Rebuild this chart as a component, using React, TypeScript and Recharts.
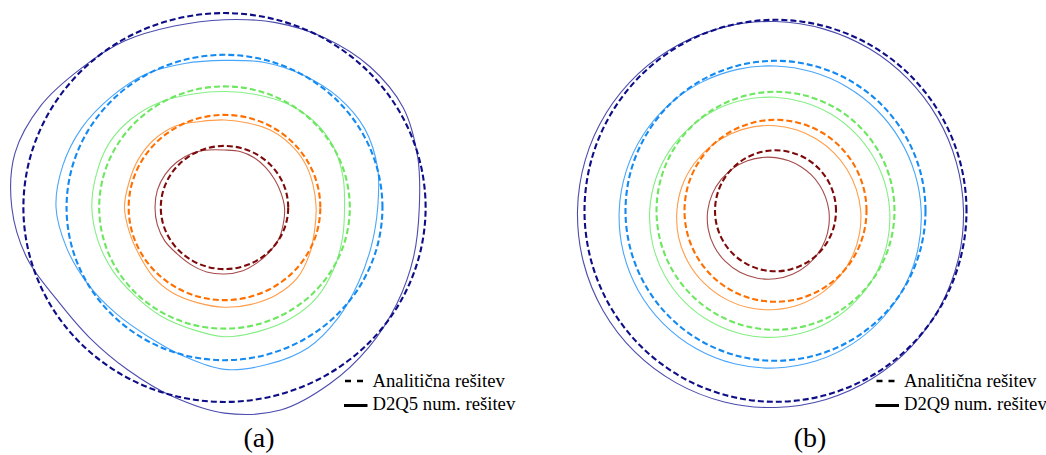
import React from 'react';
import { RadarChart, Radar, PolarAngleAxis, PolarRadiusAxis } from 'recharts';

const W = 1046;
const H = 455;

// polar angles (degrees, counter-clockwise from east) at which contours were read
const angles = [0, 15, 30, 45, 60, 75, 90, 105, 120, 135, 150, 165, 180, 195, 210, 225, 240, 255, 270, 285, 300, 315, 330, 345];

// analytic solution: circle radii of the five contour levels (inner -> outer)
const analyticRadii = [60.5, 91, 119, 150, 191];

// D2Q5 numerical contours (radius per angle)
const d2q5Red = [57, 55.5, 55, 55.5, 56.5, 57, 56.5, 58.5, 61.5, 63.5, 65, 66, 66, 66, 65.5, 64, 64.5, 65.5, 65.3, 64.5, 62.5, 61, 60, 58];
const d2q5Orange = [87, 87, 88, 88, 87.5, 86, 86, 87.5, 92.5, 94.5, 94.5, 94, 95, 93.5, 93.5, 96, 97.3, 97, 98, 98.5, 99, 97.8, 93, 88.5];
const d2q5Green = [114, 116.5, 119.5, 120, 118, 115, 114, 115.5, 120, 124, 126.5, 126, 126, 124.5, 123, 121.5, 122.5, 123.5, 127, 126, 126, 124.5, 120, 116];
const d2q5Blue = [145.5, 150.5, 154, 153, 150, 147.5, 144.5, 146.5, 151, 153, 156.5, 159, 160, 155, 150, 146.5, 146, 151, 159, 159.5, 159, 153, 147, 144.5];
const d2q5Navy = [185, 190, 196, 195.5, 192, 188, 184.5, 184.5, 189, 193, 201, 206, 202, 194, 183, 181, 184, 192, 202, 206, 200, 194, 189, 186];

// D2Q9 numerical contours (radius per angle)
const d2q9Red = [53.4, 51.9, 51, 50.7, 50.9, 51.8, 53.2, 55.1, 57.4, 60, 62.7, 65.4, 67.8, 69.7, 70.9, 71.3, 71, 69.8, 68, 65.7, 63, 60.2, 57.7, 55.3];
const d2q9Orange = [85.2, 83.6, 82.7, 82.3, 82.6, 83.6, 85.1, 86.9, 89, 91.4, 94, 96.6, 98.6, 100.4, 101.3, 101.7, 101.4, 100.4, 98.7, 96.7, 94.2, 91.6, 89.2, 87];
const d2q9Green = [114.2, 112.7, 111.7, 111.3, 111.5, 112.2, 113.5, 115.2, 117.3, 119.3, 121.8, 123.9, 125.8, 127.3, 128.3, 128.7, 128.5, 127.8, 126.5, 124.8, 122.7, 120.3, 118.2, 116.1];
const d2q9Blue = [145.7, 144.3, 143.3, 142.9, 143, 143.6, 144.8, 146.4, 148.3, 150.4, 152.5, 154.5, 156.3, 157.7, 158.7, 159.1, 159, 158.4, 157.2, 155.6, 153.7, 151.6, 149.5, 147.5];
const d2q9Navy = [188, 187.2, 186.8, 186.8, 187.3, 188.1, 189.3, 190.7, 192.3, 193.9, 195.5, 196.9, 198, 198.8, 199.2, 199.2, 198.7, 197.9, 196.7, 195.3, 193.7, 192.1, 190.5, 189.1];

const d2q5 = [d2q5Red, d2q5Orange, d2q5Green, d2q5Blue, d2q5Navy];
const d2q9 = [d2q9Red, d2q9Orange, d2q9Green, d2q9Blue, d2q9Navy];

const analyticColors = ['#7d0a0a', '#ff6f00', '#6de660', '#1389f2', '#0d0d87'];
const numericColors = ['#a54a4a', '#ff9d4a', '#86ee86', '#4aa6fa', '#4c4cae'];

const legendAnalytic = 'Analitična rešitev';
const legendD2Q5 = 'D2Q5 num. rešitev';
const legendD2Q9 = 'D2Q9 num. rešitev';
const panelLabels = ['(a)', '(b)'];

const FONT = 'Liberation Serif';
const R_MAX = 220;

function buildRows(numeric: number[][]) {
  return angles.map((angle, i) => {
    const row: Record<string, number> = { angle };
    analyticRadii.forEach((r, k) => {
      row['a' + k] = r;
    });
    numeric.forEach((arr, k) => {
      row['n' + k] = arr[i];
    });
    return row;
  });
}

function makeShape(cx: number, cy: number, sx: number, sy: number, stroke: string, width: number, dash?: string) {
  return (props: any) => {
    const raw = (props && props.points) || [];
    const pts = raw
      .filter((p: any) => Number.isFinite(p.x) && Number.isFinite(p.y))
      .map((p: any) => ({ x: cx + (p.x - cx) * sx, y: cy + (p.y - cy) * sy }));
    const n = pts.length;
    if (n < 3) return <g />;
    let d = `M${pts[0].x.toFixed(2)},${pts[0].y.toFixed(2)}`;
    for (let i = 0; i < n; i++) {
      const p0 = pts[(i - 1 + n) % n];
      const p1 = pts[i];
      const p2 = pts[(i + 1) % n];
      const p3 = pts[(i + 2) % n];
      const c1x = p1.x + (p2.x - p0.x) / 6;
      const c1y = p1.y + (p2.y - p0.y) / 6;
      const c2x = p2.x - (p3.x - p1.x) / 6;
      const c2y = p2.y - (p3.y - p1.y) / 6;
      d += ` C${c1x.toFixed(2)},${c1y.toFixed(2)} ${c2x.toFixed(2)},${c2y.toFixed(2)} ${p2.x.toFixed(2)},${p2.y.toFixed(2)}`;
    }
    d += ' Z';
    return <path d={d} fill="none" stroke={stroke} strokeWidth={width} strokeDasharray={dash} />;
  };
}

function Panel({ cx, cy, sx, sy, numeric }: { cx: number; cy: number; sx: number; sy: number; numeric: number[][] }) {
  const rows = buildRows(numeric);
  return (
    <div style={{ position: 'absolute', left: 0, top: 0, width: W, height: H }}>
      <RadarChart
        width={W}
        height={H}
        data={rows}
        cx={cx}
        cy={cy}
        innerRadius={0}
        outerRadius={R_MAX}
        startAngle={0}
        endAngle={360}
        margin={{ top: 0, right: 0, bottom: 0, left: 0 }}
      >
        <PolarAngleAxis dataKey="angle" type="number" domain={[0, 360]} tick={false} axisLine={false} tickLine={false} />
        <PolarRadiusAxis type="number" domain={[0, R_MAX]} allowDataOverflow tick={false} axisLine={false} tickLine={false} />
        {numeric.map((_, k) => (
          <Radar
            key={'n' + k}
            dataKey={'n' + k}
            isAnimationActive={false}
            fill="none"
            stroke={numericColors[k]}
            shape={makeShape(cx, cy, sx, sy, numericColors[k], 1.1)}
          />
        ))}
        {analyticRadii.map((_, k) => (
          <Radar
            key={'a' + k}
            dataKey={'a' + k}
            isAnimationActive={false}
            fill="none"
            stroke={analyticColors[k]}
            shape={makeShape(cx, cy, sx, sy, analyticColors[k], 2.1, '6 3')}
          />
        ))}
      </RadarChart>
    </div>
  );
}

const LEG_FS = 18.7;

function textDiv(left: number, baseline: number, fs: number, content: string, center?: boolean) {
  // line-height = font size; Liberation Serif baseline sits ~0.8375em below the box top
  const top = baseline - fs * 0.8375;
  const style: React.CSSProperties = {
    position: 'absolute',
    top,
    left: center ? left - 100 : left,
    width: center ? 200 : undefined,
    textAlign: center ? 'center' : 'left',
    fontFamily: FONT,
    fontSize: fs,
    lineHeight: `${fs}px`,
    color: '#000',
    whiteSpace: 'nowrap',
  };
  return <div style={style}>{content}</div>;
}

function LegendMarks({ x, y }: { x: number; y: number }) {
  return (
    <g>
      <line x1={x} y1={y} x2={x + 18} y2={y} stroke="#000" strokeWidth={2.5} strokeDasharray="6 6" />
      <line x1={x - 1} y1={y + 24.5} x2={x + 22.5} y2={y + 24.5} stroke="#000" strokeWidth={3} />
    </g>
  );
}

export default function App() {
  return (
    <div style={{ position: 'absolute', left: 0, top: 0, width: W, height: H, background: '#fff', overflow: 'hidden' }}>
      <Panel cx={224.5} cy={207.5} sx={1.053} sy={1.018} numeric={d2q5} />
      <Panel cx={775.5} cy={210.8} sx={1} sy={1} numeric={d2q9} />
      <svg width={W} height={H} style={{ position: 'absolute', left: 0, top: 0 }}>
        <LegendMarks x={345} y={381} />
        <LegendMarks x={876.5} y={381} />
      </svg>
      {textDiv(372.5, 388, LEG_FS, legendAnalytic)}
      {textDiv(372.5, 411, LEG_FS, legendD2Q5)}
      {textDiv(904, 388, LEG_FS, legendAnalytic)}
      {textDiv(904, 411, LEG_FS, legendD2Q9)}
      {textDiv(259, 447, 28, panelLabels[0], true)}
      {textDiv(810, 447, 28, panelLabels[1], true)}
    </div>
  );
}
